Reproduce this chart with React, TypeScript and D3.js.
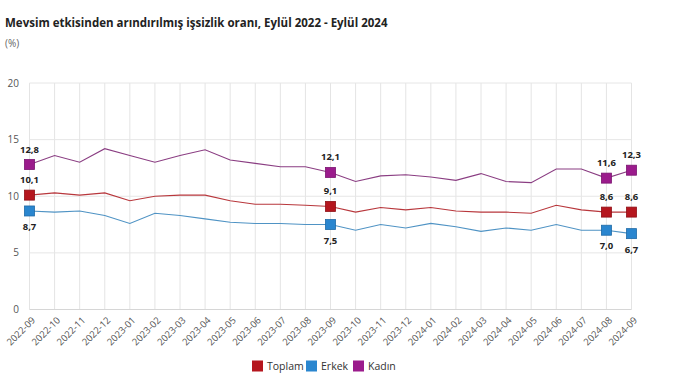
import React from "react";
import * as d3 from "d3";

const months = [
  "2022-09","2022-10","2022-11","2022-12","2023-01","2023-02","2023-03","2023-04","2023-05",
  "2023-06","2023-07","2023-08","2023-09","2023-10","2023-11","2023-12","2024-01","2024-02",
  "2024-03","2024-04","2024-05","2024-06","2024-07","2024-08","2024-09",
];
const toplam = [10.1,10.3,10.1,10.3,9.6,10.0,10.1,10.1,9.6,9.3,9.3,9.2,9.1,8.6,9.0,8.8,9.0,8.7,8.6,8.6,8.5,9.2,8.8,8.6,8.6];
const erkek = [8.7,8.6,8.7,8.3,7.6,8.5,8.3,8.0,7.7,7.6,7.6,7.5,7.5,7.0,7.5,7.2,7.6,7.3,6.9,7.2,7.0,7.5,7.0,7.0,6.7];
const kadin = [12.8,13.6,13.0,14.2,13.6,13.0,13.6,14.1,13.2,12.9,12.6,12.6,12.1,11.3,11.8,11.9,11.7,11.4,12.0,11.3,11.2,12.4,12.4,11.6,12.3];
const yTicks = [0, 5, 10, 15, 20];
const labelIdx = [0, 12, 23, 24];

const series = [
  { name: "Toplam", values: toplam, line: "#b8373c", fill: "#b5161e", stroke: "#8e1016", pos: "above" },
  { name: "Erkek", values: erkek, line: "#4f93c4", fill: "#2a86cf", stroke: "#1f6aa6", pos: "below" },
  { name: "Kadın", values: kadin, line: "#8a3d82", fill: "#9b1b8c", stroke: "#7a1570", pos: "above" },
];

const fmt = (v: number) => v.toFixed(1).replace(".", ",");
const FONT = "'Open Sans', 'Noto Sans', sans-serif";

export default function App() {
  const W = 680, H = 381;
  const x = d3.scalePoint<string>().domain(months).range([29.5, 631.5]);
  const y = d3.scaleLinear().domain([0, 20]).range([309.5, 83]);
  const line = d3.line<number>().x((_, i) => x(months[i])!).y((d) => y(d));

  return (
    <svg width={W} height={H} style={{ position: "absolute", left: 0, top: 0, background: "#fff" }} fontFamily={FONT}>
      <text x={5} y={27} fontSize={11.5} fontWeight={700} fill="#222">
        Mevsim etkisinden arındırılmış işsizlik oranı, Eylül 2022 - Eylül 2024
      </text>
      <text x={5} y={47} fontSize={10} fill="#666">(%)</text>

      {months.map((m) => (
        <line key={m} x1={x(m)} x2={x(m)} y1={y(20)} y2={y(0)} stroke="#e4e4e4" strokeWidth={1} />
      ))}
      {yTicks.map((t) => (
        <g key={t}>
          <line x1={29.5} x2={631.5} y1={y(t)} y2={y(t)} stroke={t === 0 ? "#d6d6d6" : "#e6e6e6"} strokeWidth={1} />
          <text x={19} y={y(t)} dy="0.35em" textAnchor="end" fontSize={10} fill="#555">{t}</text>
        </g>
      ))}

      {months.map((m) => (
        <text
          key={m}
          transform={`translate(${x(m)! + 4},${y(0) + 9}) rotate(-45)`}
          textAnchor="end"
          dy="0.35em"
          fontSize={9.5}
          fill="#555"
        >
          {m}
        </text>
      ))}

      {series.map((s) => (
        <path key={s.name} d={line(s.values) || ""} fill="none" stroke={s.line} strokeWidth={1.1} />
      ))}

      {series.map((s) =>
        labelIdx.map((i) => {
          const cx = x(months[i])!;
          const cy = y(s.values[i]);
          return (
            <g key={s.name + i}>
              <rect x={cx - 5} y={cy - 5} width={10} height={10} fill={s.fill} stroke={s.stroke} strokeWidth={0.8} />
              <text
                x={cx}
                y={s.pos === "above" ? cy - 12 : cy + 19}
                textAnchor="middle"
                fontSize={9.5}
                fontWeight={700}
                fill="#222"
              >
                {fmt(s.values[i])}
              </text>
            </g>
          );
        })
      )}

      {[
        { s: series[0], x: 252 },
        { s: series[1], x: 306 },
        { s: series[2], x: 353 },
      ].map(({ s, x: lx }) => (
        <g key={s.name}>
          <rect x={lx} y={360.5} width={11} height={11} fill={s.fill} />
          <text x={lx + 15} y={366} dy="0.35em" fontSize={10.5} fill="#333">{s.name}</text>
        </g>
      ))}
    </svg>
  );
}
